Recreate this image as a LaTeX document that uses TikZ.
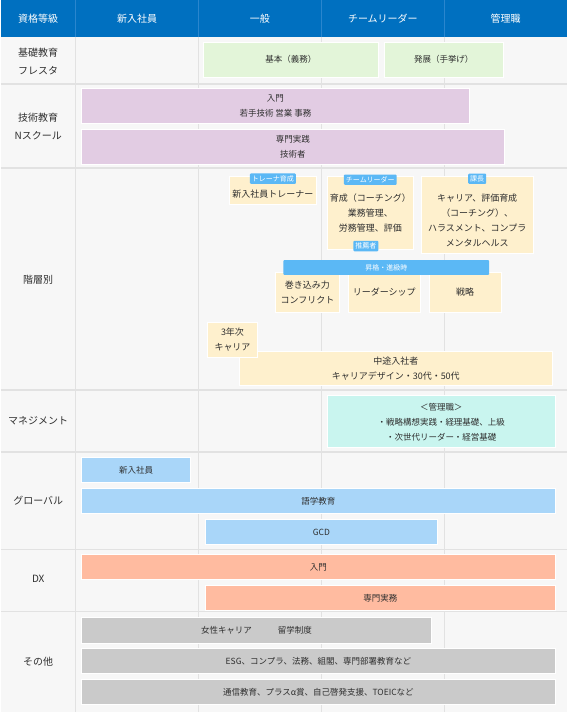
\documentclass[tikz,border=0pt]{standalone}
\usepackage{fontspec}
\setmainfont{Noto Sans CJK JP}
\usepackage{xcolor}
\usetikzlibrary{positioning,calc}

\definecolor{hdblue}{HTML}{0070C0}
\definecolor{hdline}{HTML}{2A86CE}
\definecolor{bg}{HTML}{F7F7F7}
\definecolor{grid}{HTML}{E2E2E2}
\definecolor{txt}{HTML}{2E2E2E}
\definecolor{kiso}{HTML}{E3F5D9}
\definecolor{gijutsu}{HTML}{E2CCE3}
\definecolor{kaiso}{HTML}{FEF0CD}
\definecolor{tagblue}{HTML}{5BB8F5}
\definecolor{manage}{HTML}{C9F5EF}
\definecolor{global}{HTML}{A9D6F9}
\definecolor{dx}{HTML}{FFBBA0}
\definecolor{other}{HTML}{CACACA}

\tikzset{
  box/.style={draw=white, line width=0.8pt, inner sep=0pt, align=center,
    text=txt, font=\fontsize{8.5}{15}\selectfont},
  bigbox/.style={box, font=\fontsize{9}{15}\selectfont},
  boxtxt/.style={inner sep=0pt, align=center, text=txt,
    font=\fontsize{9}{15}\selectfont},
  sz/.style 2 args={minimum width=#1pt, minimum height=#2pt},
  tag/.style={fill=tagblue, rounded corners=1pt, text=white, inner sep=2pt,
    font=\fontsize{7}{8}\selectfont},
  head/.style={text=white, font=\fontsize{10}{12}\selectfont},
  rowlab/.style={text=txt, align=center, font=\fontsize{10}{18}\selectfont},
}

\begin{document}
\begin{tikzpicture}[x=1pt,y=-1pt]
  % background and grid
  \fill[bg] (0,0) rectangle (567,712);
  \fill[hdblue] (0,0) rectangle (567,37);
  \foreach \x in {75,198,321,444} {
    \draw[hdline,line width=0.6pt] (\x,0) -- (\x,37);
    \draw[grid,line width=1pt] (\x,37) -- (\x,712);
  }
  \foreach \y in {84,168,390,452,550,612}
    \draw[grid,line width=1.5pt] (0,\y) -- (567,\y);

  % header
  \node[head] (h0) at (37.5,18) {資格等級};
  \node[head] (h1) at (136.5,18) {新入社員};
  \node[head] (h2) at (259.5,18) {一般};
  \node[head] (h3) at (382.5,18) {チームリーダー};
  \node[head] (h4) at (505.5,18) {管理職};

  % row labels
  \node[rowlab] (r1) at (37.5,61) {基礎教育\\フレスタ};
  \node[rowlab] (r2) at (37.5,126) {技術教育\\Nスクール};
  \node[rowlab] (r3) at (37.5,280) {階層別};
  \node[rowlab] (r4) at (37.5,421) {マネジメント};
  \node[rowlab] (r5) at (37.5,501) {グローバル};
  \node[rowlab] (r6) at (37.5,579) {DX};
  \node[rowlab] (r7) at (37.5,662) {その他};

  % 基礎教育
  \node[box, fill=kiso, sz={175}{35}] (kihon) at (290.5,59.5) {基本（義務）};
  \node[box, fill=kiso, sz={119}{35}] (hatten) at (443.5,59.5) {発展（手挙げ）};

  % 技術教育
  \node[box, fill=gijutsu, sz={388}{35}] (nyumon) at (275,105.5) {入門\\若手技術 営業 事務};
  \node[box, fill=gijutsu, sz={423}{35}] (senmon) at (292.5,146.5) {専門実践\\技術者};

  % 階層別
  \node[bigbox, fill=kaiso, sz={87}{28}] (trainer) at (272.5,190) {};
  \node[boxtxt] (trainertxt) at ($(trainer.center)+(0,4)$) {新入社員トレーナー};
  \node[tag] (trainertag) at ($(trainer.north)+(0,3)$) {トレーナ育成};

  \node[bigbox, fill=kaiso, sz={86}{73}] (tl) at (370,212.5)
    {育成（コーチング）\\業務管理、\\労務管理、評価};
  \node[tag] (tltag) at ($(tl.north)+(0,4)$) {チームリーダー};
  \node[tag] (suisen) at (365.5,246) {推薦者};

  \node[bigbox, fill=kaiso, sz={112}{77}] (kacho) at (477,214.5) {};
  \node[boxtxt] (kachotxt) at ($(kacho.center)+(0,6)$)
    {キャリア、評価育成\\（コーチング）、\\ハラスメント、コンプラ\\メンタルヘルス};
  \node[tag] (kachotag) at ($(kacho.north)+(0,3)$) {課長};

  \node[bigbox, fill=kaiso, sz={64}{40}] (makikomi) at (307,292) {巻き込み力\\コンフリクト};
  \node[bigbox, fill=kaiso, sz={72}{40}] (leader) at (384,292) {リーダーシップ};
  \node[bigbox, fill=kaiso, sz={72}{40}] (senryaku) at (465,292) {戦略};
  \node[tag, inner sep=0pt, sz={206}{15}] (shokaku) at (386,267.5) {昇格・進級時};

  \node[bigbox, fill=kaiso, sz={313}{35}] (chuto) at (395.5,368.5)
    {中途入社者\\キャリアデザイン・30代・50代};
  \node[bigbox, fill=kaiso, sz={50}{35}] (sannen) at (232,339.5) {3年次\\キャリア};

  % マネジメント
  \node[box, fill=manage, sz={228}{52}] (kanri) at (441,422)
    {＜管理職＞\\・戦略構想実践・経理基礎、上級\\・次世代リーダー・経営基礎};

  % グローバル
  \node[box, fill=global, sz={109}{25}] (gshinnyu) at (135.5,470.5) {新入社員};
  \node[box, fill=global, sz={474}{25}] (gogaku) at (318,501.5) {語学教育};
  \node[box, fill=global, sz={232}{25}] (gcd) at (321,532.5) {GCD};

  % DX
  \node[box, fill=dx, sz={474}{25}] (dxnyumon) at (318,567.5) {入門};
  \node[box, fill=dx, sz={350}{25}] (dxjitsumu) at (380,598.5) {専門実務};

  % その他
  \node[box, fill=other, sz={350}{26}] (josei) at (256,631) {女性キャリア\hspace{26pt}留学制度};
  \node[box, fill=other, sz={474}{25}] (esg) at (318,661.5) {ESG、コンプラ、法務、組閣、専門部署教育など};
  \node[box, fill=other, sz={474}{25}] (tsushin) at (318,692.5) {通信教育、プラスα賞、自己啓発支援、TOEICなど};
\end{tikzpicture}
\end{document}
